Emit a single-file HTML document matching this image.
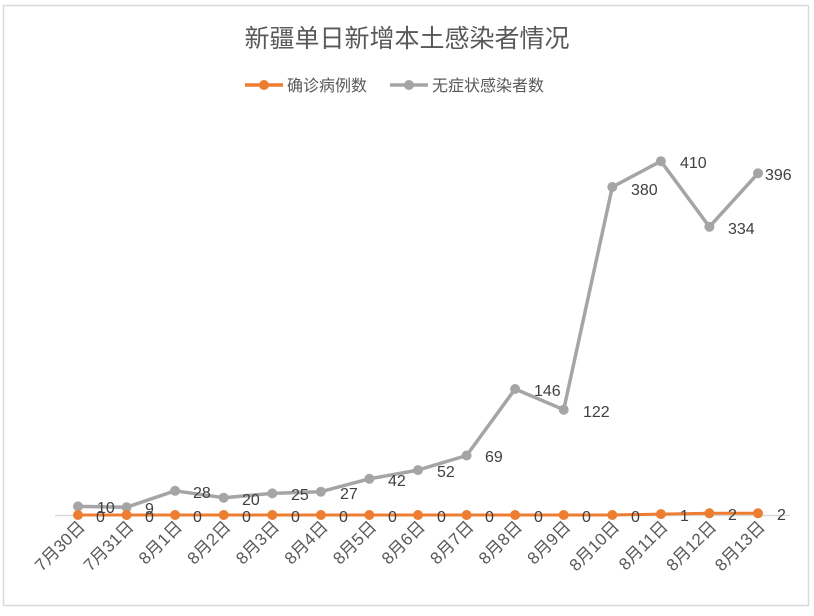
<!DOCTYPE html>
<html><head><meta charset="utf-8"><style>
html,body{margin:0;padding:0;background:#fff}
svg{display:block}
text{font-family:"Liberation Sans","Noto Sans CJK SC",sans-serif}
</style></head><body>
<svg width="814" height="616" viewBox="0 0 814 616" xmlns="http://www.w3.org/2000/svg">
<rect x="3.5" y="5.5" width="805" height="600" fill="#fff" stroke="#d9d9d9" stroke-width="1.5"/>
<text x="407" y="47" text-anchor="middle" font-size="25" fill="#595959">新疆单日新增本土感染者情况</text>
<g font-size="16" fill="#595959">
<line x1="245" y1="85" x2="283" y2="85" stroke="#ed7d31" stroke-width="3.5"/>
<circle cx="264" cy="85" r="5" fill="#ed7d31"/>
<text x="287" y="91">确诊病例数</text>
<line x1="390" y1="85" x2="428" y2="85" stroke="#a5a5a5" stroke-width="3.5"/>
<circle cx="409" cy="85" r="5" fill="#a5a5a5"/>
<text x="432" y="91">无症状感染者数</text>
</g>
<line x1="55" y1="515.5" x2="790" y2="515.5" stroke="#d9d9d9" stroke-width="1.5"/>
<polyline fill="none" stroke="#a5a5a5" stroke-width="3.5" stroke-linejoin="round" points="78,506.4 126.6,507.2 175.1,490.8 223.7,497.7 272.3,493.4 320.9,491.7 369.4,478.8 418,470.1 466.6,455.5 515.1,389 563.7,409.7 612.3,187 660.9,161.2 709.4,226.8 758,173.3"/>
<g fill="#a5a5a5">
<circle cx="78" cy="506.4" r="5"/><circle cx="126.6" cy="507.2" r="5"/><circle cx="175.1" cy="490.8" r="5"/><circle cx="223.7" cy="497.7" r="5"/><circle cx="272.3" cy="493.4" r="5"/><circle cx="320.9" cy="491.7" r="5"/><circle cx="369.4" cy="478.8" r="5"/><circle cx="418" cy="470.1" r="5"/><circle cx="466.6" cy="455.5" r="5"/><circle cx="515.1" cy="389" r="5"/><circle cx="563.7" cy="409.7" r="5"/><circle cx="612.3" cy="187" r="5"/><circle cx="660.9" cy="161.2" r="5"/><circle cx="709.4" cy="226.8" r="5"/><circle cx="758" cy="173.3" r="5"/>
</g>
<polyline fill="none" stroke="#ed7d31" stroke-width="3" points="78,515 126.6,515 175.1,515 223.7,515 272.3,515 320.9,515 369.4,515 418,515 466.6,515 515.1,515 563.7,515 612.3,515 660.9,514.1 709.4,513.3 758,513.3"/>
<g fill="#ed7d31">
<circle cx="78" cy="515" r="5"/><circle cx="126.6" cy="515" r="5"/><circle cx="175.1" cy="515" r="5"/><circle cx="223.7" cy="515" r="5"/><circle cx="272.3" cy="515" r="5"/><circle cx="320.9" cy="515" r="5"/><circle cx="369.4" cy="515" r="5"/><circle cx="418" cy="515" r="5"/><circle cx="466.6" cy="515" r="5"/><circle cx="515.1" cy="515" r="5"/><circle cx="563.7" cy="515" r="5"/><circle cx="612.3" cy="515" r="5"/><circle cx="660.9" cy="514.1" r="5"/><circle cx="709.4" cy="513.3" r="5"/><circle cx="758" cy="513.3" r="5"/>
</g>
<g font-size="16" fill="#404040">
<text x="97" y="513">10</text><text x="145" y="514">9</text><text x="193" y="498">28</text><text x="242" y="505">20</text><text x="291" y="500">25</text><text x="340" y="499">27</text><text x="388" y="486">42</text><text x="437" y="477">52</text><text x="485" y="462">69</text><text x="534" y="396">146</text><text x="583" y="417">122</text><text x="631" y="195">380</text><text x="680" y="168">410</text><text x="728" y="234">334</text><text x="765" y="180">396</text>
<text x="96" y="522">0</text><text x="145" y="522">0</text><text x="193" y="522">0</text><text x="242" y="522">0</text><text x="291" y="522">0</text><text x="339" y="522">0</text><text x="388" y="522">0</text><text x="437" y="522">0</text><text x="485" y="522">0</text><text x="534" y="522">0</text><text x="582" y="522">0</text><text x="631" y="522">0</text><text x="680" y="521">1</text><text x="728" y="520">2</text><text x="777" y="520">2</text>
</g>
<g font-size="17" fill="#595959" text-anchor="end">
<text transform="translate(86,528) rotate(-45)">7月30日</text>
<text transform="translate(134.6,528) rotate(-45)">7月31日</text>
<text transform="translate(183.1,528) rotate(-45)">8月1日</text>
<text transform="translate(231.7,528) rotate(-45)">8月2日</text>
<text transform="translate(280.3,528) rotate(-45)">8月3日</text>
<text transform="translate(328.9,528) rotate(-45)">8月4日</text>
<text transform="translate(377.4,528) rotate(-45)">8月5日</text>
<text transform="translate(426,528) rotate(-45)">8月6日</text>
<text transform="translate(474.6,528) rotate(-45)">8月7日</text>
<text transform="translate(523.1,528) rotate(-45)">8月8日</text>
<text transform="translate(571.7,528) rotate(-45)">8月9日</text>
<text transform="translate(620.3,528) rotate(-45)">8月10日</text>
<text transform="translate(668.9,528) rotate(-45)">8月11日</text>
<text transform="translate(717.4,528) rotate(-45)">8月12日</text>
<text transform="translate(766,528) rotate(-45)">8月13日</text>
</g>
</svg>
</body></html>
